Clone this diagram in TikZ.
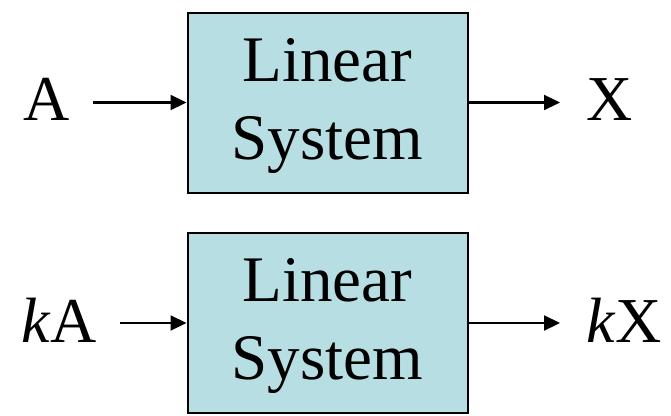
\documentclass[tikz,border=0pt]{standalone}
\usepackage{fontspec}
\setmainfont{Liberation Serif}
\usetikzlibrary{arrows.meta}
\definecolor{boxfill}{RGB}{183,223,227}
\tikzset{
  sysbox/.style={draw=black, line width=2pt, fill=boxfill, minimum width=280pt,
    minimum height=180pt, inner sep=0pt},
  systext/.style={inner sep=0pt, align=center, font=\fontsize{65}{78}\selectfont},
  sig/.style={anchor=base west, inner sep=0pt, font=\fontsize{64}{78}\selectfont},
  arr/.style={line width=2.2pt, -{Triangle[length=16pt,width=15pt]}}
}
\begin{document}
\begin{tikzpicture}[x=1pt,y=-1pt]
  \useasboundingbox (0,0) rectangle (671,415);
  % upper system
  \node[sysbox] (box1) at (327.5,102.5) {};
  \node[systext] (t1) at ([yshift=-3pt]box1.center) {Linear\\System};
  \node[sig] (A) at (23.5,120) {A};
  \node[sig] (X) at (586,120) {X};
  \draw[arr, shorten <=23pt] (A.east |- box1.west) -- (box1.west);
  \draw[arr, shorten >=26pt] (box1.east) -- (X.west |- box1.east);
  % scaled input
  \node[sysbox] (box2) at (327.5,323) {};
  \node[systext] (t2) at ([yshift=-3pt]box2.center) {Linear\\System};
  \node[sig] (kA) at (21,342) {\textit{k}A};
  \node[sig] (kX) at (586,342) {\textit{k}X};
  \draw[arr, shorten <=23pt] (kA.east |- box2.west) -- (box2.west);
  \draw[arr, shorten >=26pt] (box2.east) -- (kX.west |- box2.east);
\end{tikzpicture}
\end{document}
